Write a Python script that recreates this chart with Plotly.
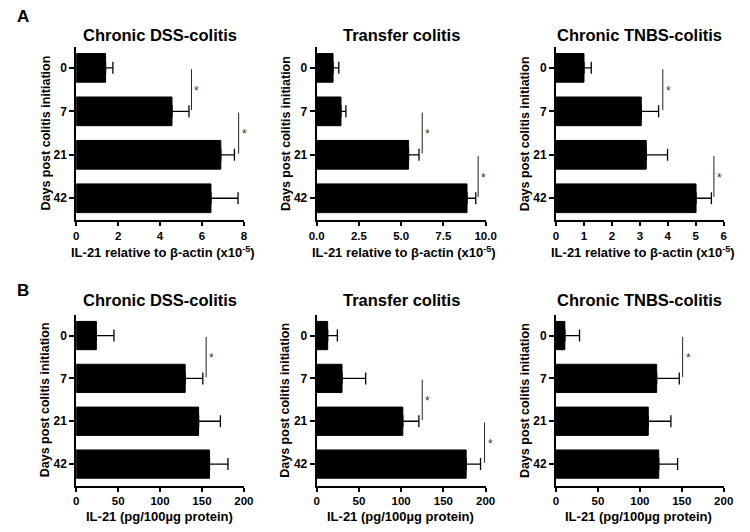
import plotly.graph_objects as go

days = ["0", "7", "21", "42"]

titles = ["Chronic DSS-colitis", "Transfer colitis", "Chronic TNBS-colitis"]

# Row A: IL-21 mRNA relative to beta-actin (x10^-5)
a_dss_mean = [1.4, 4.57, 6.9, 6.43]
a_dss_top = [1.75, 5.38, 7.55, 7.72]
a_tr_mean = [0.97, 1.44, 5.44, 8.9]
a_tr_top = [1.31, 1.73, 6.06, 9.42]
a_tn_mean = [1.0, 3.05, 3.23, 5.01]
a_tn_top = [1.26, 3.67, 3.99, 5.56]

# Row B: IL-21 protein (pg/100ug protein)
b_dss_mean = [24, 130, 146, 159]
b_dss_top = [45, 151, 172, 181]
b_tr_mean = [13, 30, 102, 177]
b_tr_top = [24.5, 58, 121, 194]
b_tn_mean = [10.5, 120, 110, 122.5]
b_tn_top = [28, 147, 137, 145]

# significance brackets: (x position, first category index, second category index)
a_dss_sig = [(5.5, 0, 1), (7.75, 1, 2)]
a_tr_sig = [(6.25, 1, 2), (9.56, 2, 3)]
a_tn_sig = [(3.82, 0, 1), (5.65, 2, 3)]
b_dss_sig = [(155, 0, 1)]
b_tr_sig = [(125, 1, 2), (198.8, 2, 3)]
b_tn_sig = [(151, 0, 1)]

a_xtitle = "IL-21 relative to β-actin (x10<sup>-5</sup>)"
b_xtitle = "IL-21 (pg/100µg protein)"
ytitle = "Days post colitis initiation"

a_ranges = [[0, 8], [0, 10], [0, 6]]
a_dticks = [2, 2.5, 1]
a_tickformats = ["d", ".1f", "d"]
b_ranges = [[0, 200], [0, 200], [0, 200]]

panels = [
    (a_dss_mean, a_dss_top, a_dss_sig, a_ranges[0], a_dticks[0], a_tickformats[0], a_xtitle),
    (a_tr_mean, a_tr_top, a_tr_sig, a_ranges[1], a_dticks[1], a_tickformats[1], a_xtitle),
    (a_tn_mean, a_tn_top, a_tn_sig, a_ranges[2], a_dticks[2], a_tickformats[2], a_xtitle),
    (b_dss_mean, b_dss_top, b_dss_sig, b_ranges[0], 50, "d", b_xtitle),
    (b_tr_mean, b_tr_top, b_tr_sig, b_ranges[1], 50, "d", b_xtitle),
    (b_tn_mean, b_tn_top, b_tn_sig, b_ranges[2], 50, "d", b_xtitle),
]

W, H = 750, 532
x_doms_px = [(70, 242), (316.7, 490), (562.3, 734.3)]
y_doms_px = [(47, 220), (315, 485.5)]
title_gap = [12, 15]
xtitle_gap = [32, 31]

FONT = "Liberation Sans, Arial, sans-serif"

fig = go.Figure()
layout = dict(
    width=W, height=H, margin=dict(l=0, r=0, t=0, b=0),
    paper_bgcolor="white", plot_bgcolor="white", showlegend=False,
    font=dict(family=FONT, color="black"),
)
shapes = []
annotations = []

for i, (mean, top, sigs, xr, dt, tf, xt) in enumerate(panels):
    row, col = divmod(i, 3)
    n = i + 1
    xa = "x" if n == 1 else f"x{n}"
    ya = "y" if n == 1 else f"y{n}"
    err_plus = [t - m for t, m in zip(top, mean)]
    fig.add_trace(go.Bar(
        x=mean, y=days, orientation="h", xaxis=xa, yaxis=ya,
        marker=dict(color="black", line=dict(color="black", width=1)),
        width=0.66,
        error_x=dict(type="data", symmetric=False, array=err_plus,
                     arrayminus=[0] * len(mean), color="black",
                     thickness=1.3, width=6),
        hoverinfo="skip",
    ))
    x0p, x1p = x_doms_px[col]
    y0p, y1p = y_doms_px[row]
    xdom = [x0p / W, x1p / W]
    ydom = [1 - y1p / H, 1 - y0p / H]
    layout["xaxis" if n == 1 else f"xaxis{n}"] = dict(
        domain=xdom, anchor=ya, range=xr, dtick=dt, tick0=0, tickformat=tf,
        showline=True, linecolor="black", linewidth=2, ticks="outside",
        ticklen=4, tickwidth=2, tickcolor="black", showgrid=False,
        zeroline=False, tickfont=dict(size=11.5, weight="bold", family=FONT, color="black"),
    )
    layout["yaxis" if n == 1 else f"yaxis{n}"] = dict(
        domain=ydom, anchor=xa, type="category", range=[3.5, -0.48],
        showline=True, linecolor="black", linewidth=2, ticks="outside",
        ticklen=5, tickwidth=2, tickcolor="black", showgrid=False,
        zeroline=False, tickfont=dict(size=12, weight="bold", family=FONT, color="black"),
    )
    annotations.append(dict(
        text=titles[col], xref="paper", yref="paper",
        x=(x0p + x1p) / 2 / W, y=1 - (y0p - title_gap[row]) / H,
        showarrow=False, font=dict(size=16.5, weight="bold", family=FONT, color="black"),
        xanchor="center", yanchor="middle",
    ))
    annotations.append(dict(
        text=xt, xref="paper", yref="paper",
        x=(x0p + x1p) / 2 / W + (3 / W if row == 0 else -1 / W),
        y=1 - (y1p + xtitle_gap[row]) / H,
        showarrow=False, font=dict(size=13, weight="bold", family=FONT, color="black"),
        xanchor="center", yanchor="middle",
    ))
    annotations.append(dict(
        text=ytitle, xref="paper", yref="paper",
        x=(x0p - 32) / W, y=1 - (y0p + y1p) / 2 / H,
        showarrow=False, textangle=-90,
        font=dict(size=12.5, weight="bold", family=FONT, color="black"),
        xanchor="center", yanchor="middle",
    ))
    for sx, c0, c1 in sigs:
        shapes.append(dict(
            type="line", xref=xa, yref=ya, x0=sx, x1=sx,
            y0=c0 + 0.03, y1=c1 - 0.03,
            line=dict(color="#222222", width=1),
        ))
        annotations.append(dict(
            text="*", xref=xa, yref=ya, x=sx, y=(c0 + c1) / 2,
            xanchor="left", yanchor="middle", xshift=1, yshift=-1,
            showarrow=False, font=dict(size=12, family=FONT, color="#333333"),
        ))

for lab, yp in [("A", 17), ("B", 290)]:
    annotations.append(dict(
        text=lab, xref="paper", yref="paper", x=15 / W, y=1 - yp / H,
        showarrow=False, font=dict(size=17, weight="bold", family=FONT, color="black"),
        xanchor="center", yanchor="middle",
    ))

layout["shapes"] = shapes
layout["annotations"] = annotations
fig.update_layout(**layout)
fig.write_html(
    "out.html",
    config={"displayModeBar": False},
    post_script="document.body.style.margin='0';document.body.style.padding='0';",
)
